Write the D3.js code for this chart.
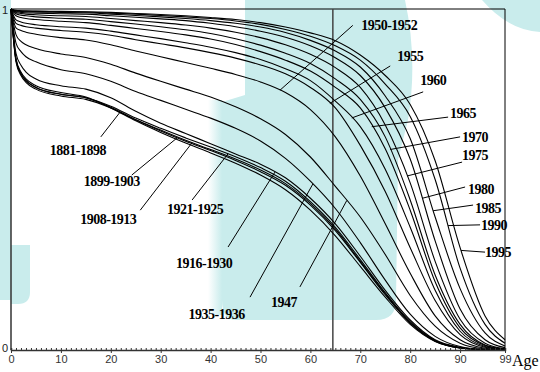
<!DOCTYPE html>
<html><head><meta charset="utf-8">
<script src="https://cdn.jsdelivr.net/npm/d3@7"></script>
<style>html,body{margin:0;padding:0;background:#fff;}svg{display:block;}</style>
</head><body>
<script>
// ---- data ----
const ages = [0,1,2,3,5,10,15,20,25,30,35,40,45,50,55,60,65,70,75,80,85,90,95,99];
const s1891 = [1,0.855,0.815,0.795,0.775,0.755,0.742,0.71,0.672,0.638,0.607,0.578,0.548,0.513,0.47,0.41,0.335,0.245,0.155,0.075,0.025,0.006,0.001,0];
const s1899 = [1,0.85,0.81,0.79,0.77,0.75,0.74,0.712,0.675,0.642,0.612,0.585,0.556,0.523,0.483,0.425,0.35,0.257,0.162,0.079,0.026,0.006,0.001,0];
const s1908 = [1,0.845,0.805,0.785,0.765,0.745,0.735,0.71,0.675,0.645,0.615,0.588,0.56,0.528,0.488,0.43,0.355,0.26,0.165,0.08,0.027,0.006,0.001,0];
const s1921 = [1,0.85,0.81,0.79,0.77,0.75,0.74,0.715,0.68,0.65,0.622,0.595,0.567,0.535,0.495,0.435,0.36,0.265,0.168,0.083,0.028,0.007,0.001,0];
const s1926 = [1,0.87,0.835,0.815,0.795,0.775,0.765,0.74,0.70,0.665,0.635,0.605,0.575,0.545,0.505,0.445,0.37,0.275,0.175,0.088,0.03,0.008,0.001,0];
const s1935 = [1,0.9,0.875,0.86,0.845,0.822,0.81,0.788,0.758,0.732,0.706,0.68,0.65,0.613,0.562,0.495,0.415,0.315,0.205,0.105,0.04,0.01,0.001,0];
const s1947 = [1,0.925,0.905,0.895,0.884,0.868,0.858,0.838,0.812,0.788,0.765,0.742,0.713,0.678,0.632,0.566,0.48,0.39,0.28,0.16,0.07,0.02,0.003,0];
const s1950 = [1,0.945,0.937,0.932,0.926,0.916,0.909,0.895,0.877,0.86,0.843,0.826,0.808,0.786,0.755,0.705,0.625,0.51,0.37,0.225,0.1,0.03,0.005,0];
const s1955 = [1,0.958,0.952,0.948,0.944,0.937,0.932,0.923,0.91,0.898,0.886,0.872,0.856,0.836,0.81,0.77,0.71,0.6,0.465,0.3,0.145,0.045,0.008,0.001];
const s1960 = [1,0.968,0.962,0.958,0.954,0.948,0.944,0.935,0.924,0.913,0.901,0.888,0.872,0.852,0.825,0.79,0.73,0.655,0.53,0.36,0.175,0.055,0.01,0.001];
const s1965 = [1,0.98,0.975,0.972,0.969,0.964,0.96,0.952,0.943,0.934,0.924,0.912,0.896,0.875,0.85,0.818,0.77,0.71,0.59,0.41,0.2,0.065,0.013,0.002];
const s1970 = [1,0.986,0.982,0.98,0.977,0.973,0.97,0.963,0.956,0.948,0.939,0.928,0.913,0.894,0.87,0.84,0.795,0.735,0.625,0.44,0.22,0.075,0.015,0.003];
const s1975 = [1,0.99,0.987,0.985,0.983,0.98,0.978,0.972,0.966,0.96,0.953,0.944,0.932,0.916,0.895,0.867,0.828,0.77,0.66,0.49,0.26,0.09,0.02,0.004];
const s1980 = [1,0.992,0.99,0.989,0.988,0.986,0.985,0.98,0.976,0.971,0.966,0.958,0.948,0.935,0.917,0.892,0.857,0.805,0.71,0.56,0.32,0.12,0.03,0.007];
const s1985 = [1,0.994,0.993,0.992,0.991,0.99,0.989,0.985,0.981,0.977,0.972,0.966,0.958,0.947,0.931,0.908,0.877,0.83,0.745,0.62,0.39,0.18,0.05,0.012];
const s1990 = [1,0.995,0.994,0.9935,0.993,0.992,0.991,0.988,0.985,0.981,0.977,0.972,0.965,0.955,0.94,0.92,0.892,0.85,0.78,0.685,0.50,0.24,0.075,0.02];
const s1995 = [1,0.996,0.995,0.9945,0.994,0.993,0.992,0.99,0.987,0.984,0.98,0.975,0.969,0.96,0.947,0.93,0.907,0.865,0.805,0.72,0.555,0.30,0.10,0.03];

const seriesNames = ["1881-1898","1899-1903","1908-1913","1921-1925","1916-1930","1935-1936","1947","1950-1952","1955","1960","1965","1970","1975","1980","1985","1990","1995"];
const seriesValues = [s1891,s1899,s1908,s1921,s1926,s1935,s1947,s1950,s1955,s1960,s1965,s1970,s1975,s1980,s1985,s1990,s1995];
const xTickValues = [0,10,20,30,40,50,60,70,80,90,99];
const yTickLabels = ["0","1"];
const refAge = 64.5;

// annotation: label position [age, l], leader start [age, l], leader end age on curve
const labelAnchors = [
  {t:"1881-1898", at:[13.4,0.585], from:[18.0,0.625], to:21.8},
  {t:"1899-1903", at:[20.2,0.493], from:[24.2,0.513], to:33.3},
  {t:"1908-1913", at:[19.5,0.384], from:[25.9,0.41], to:36.3},
  {t:"1921-1925", at:[36.9,0.413], from:[36.3,0.44], to:43.5},
  {t:"1916-1930", at:[38.7,0.255], from:[43.5,0.302], to:52.9},
  {t:"1935-1936", at:[41.2,0.104], from:[47.9,0.155], to:60.5},
  {t:"1947",      at:[54.7,0.138], from:[57.9,0.185], to:67.3},
  {t:"1950-1952", at:[75.8,0.953], from:[68.5,0.952], to:53.9},
  {t:"1955",      at:[80.0,0.862], from:[76.0,0.833], to:63.9},
  {t:"1960",      at:[84.6,0.789], from:[82.6,0.757], to:68.3},
  {t:"1965",      at:[90.6,0.695], from:[87.6,0.683], to:72.3},
  {t:"1970",      at:[93.0,0.622], from:[90.0,0.625], to:76.0},
  {t:"1975",      at:[93.0,0.569], from:[90.4,0.551], to:79.4},
  {t:"1980",      at:[94.2,0.472], from:[91.0,0.478], to:82.4},
  {t:"1985",      at:[95.6,0.416], from:[92.6,0.425], to:84.6},
  {t:"1990",      at:[96.8,0.364], from:[94.0,0.367], to:87.6},
  {t:"1995",      at:[97.6,0.287], from:[95.0,0.287], to:90.2}
];

// ---- drawing ----
const W = 540, H = 372;
const svg = d3.select("body").append("svg").attr("width", W).attr("height", H);
const x = d3.scaleLinear().domain([0,99]).range([11,505]);
const y = d3.scaleLinear().domain([0,1]).range([350,9]);

// watermark background
const defs = svg.append("defs");
const grad = defs.append("linearGradient").attr("id","edge").attr("x1","0").attr("x2","1");
grad.append("stop").attr("offset","0").attr("stop-color","#c9ecec").attr("stop-opacity",0);
grad.append("stop").attr("offset","1").attr("stop-color","#c9ecec").attr("stop-opacity",1);
const wm = svg.append("g").attr("fill", "#c9ecec");
wm.append("rect").attr("x",0).attr("y",0).attr("width",11).attr("height",300);
wm.append("path").attr("d","M11,245 L30,245 L30,292 Q30,304 18,304 L11,304 Z");
wm.append("path").attr("d","M245,0 L405,0 Q418,60 408,120 L398,160 L396,300 Q396,320 376,320 L236,320 Q222,320 222,300 L222,102 L245,95 Z");
svg.append("rect").attr("x",208).attr("y",100).attr("width",14).attr("height",215).attr("fill","url(#edge)");
wm.append("path").attr("d","M482,0 L540,0 L540,32 Q508,30 482,0 Z");

// plot frame
const frame = svg.append("g").attr("stroke","#000").attr("fill","none");
frame.append("line").attr("x1",x(0)).attr("x2",x(99)).attr("y1",y(1)).attr("y2",y(1)).attr("stroke-width",1);
frame.append("line").attr("x1",x(99)).attr("x2",x(99)).attr("y1",y(1)).attr("y2",y(0)).attr("stroke-width",1);
frame.append("line").attr("x1",x(0)).attr("x2",x(0)).attr("y1",y(1)).attr("y2",y(0)).attr("stroke","#333").attr("stroke-width",1.5);

// reference vertical line
svg.append("line").attr("x1",x(refAge)).attr("x2",x(refAge)).attr("y1",y(1)).attr("y2",y(0))
  .attr("stroke","#444").attr("stroke-width",1.5);

// curves
const line = d3.line().x((d,i)=>x(ages[i])).y(d=>y(d)).curve(d3.curveMonotoneX);
svg.append("g").selectAll("path").data(seriesValues).join("path")
  .attr("d", d=>line(d)).attr("fill","none").attr("stroke","#000").attr("stroke-width",1.1);

// leader lines + labels
function valueAt(vals, a){
  const i = d3.bisectRight(ages, a) - 1;
  const j = Math.min(i+1, ages.length-1);
  if (i === j) return vals[i];
  const t = (a - ages[i]) / (ages[j]-ages[i]);
  return vals[i] + t*(vals[j]-vals[i]);
}
const ann = svg.append("g");
labelAnchors.forEach(d=>{
  const k = seriesNames.indexOf(d.t);
  const vals = seriesValues[k];
  ann.append("line").attr("x1",x(d.from[0])).attr("y1",y(d.from[1]))
    .attr("x2",x(d.to)).attr("y2",y(valueAt(vals,d.to)))
    .attr("stroke","#000").attr("stroke-width",1);
  ann.append("text").attr("x",x(d.at[0])).attr("y",y(d.at[1]))
    .attr("text-anchor","middle").attr("dominant-baseline","central")
    .attr("font-family","'Liberation Serif','Times New Roman',serif").attr("font-weight","bold")
    .attr("font-size",14).attr("letter-spacing","-0.5").attr("fill","#000").text(d.t);
});

// x axis
const gx = svg.append("g").attr("transform",`translate(0,${y(0)})`);
gx.call(d3.axisBottom(x).tickValues(d3.range(0,100)).tickSize(-2).tickFormat(""))
  .call(g=>g.select(".domain").attr("stroke","#333").attr("stroke-width",1.5))
  .call(g=>g.selectAll(".tick line").attr("stroke","#333"));
const gx2 = svg.append("g").attr("transform",`translate(0,${y(0)})`);
gx2.call(d3.axisBottom(x).tickValues(xTickValues).tickSize(3).tickPadding(2).tickFormat(d3.format("d")))
  .call(g=>g.select(".domain").remove())
  .call(g=>g.selectAll(".tick line").attr("stroke","#333"))
  .call(g=>g.selectAll(".tick text").attr("font-family","'Liberation Sans',Arial,sans-serif").attr("font-size",11).attr("fill","#333"));

// y labels
svg.append("g").selectAll("text").data(yTickLabels).join("text")
  .attr("x",5).attr("y",d=>y(+d)+ (d==="1"?1:-2)).attr("text-anchor","middle").attr("dominant-baseline","central")
  .attr("font-family","'Liberation Sans',Arial,sans-serif").attr("font-size",11).attr("fill","#222").text(d=>d);

// Age label
svg.append("text").attr("x",x(99)+7).attr("y",y(0)+16)
  .attr("font-family","'Liberation Serif','Times New Roman',serif").attr("font-size",16).attr("fill","#000").text("Age");
</script>
</body></html>
